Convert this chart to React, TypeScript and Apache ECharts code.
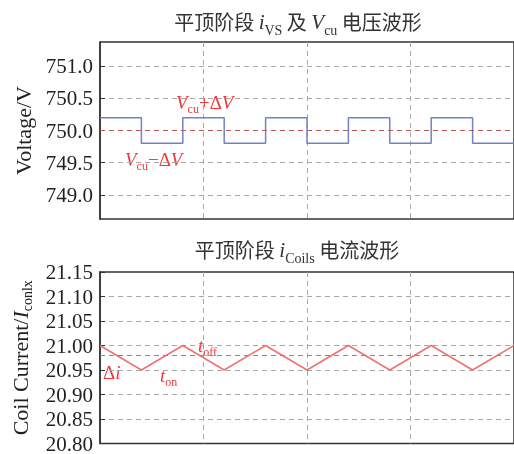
import React, { useEffect, useRef } from 'react';
import * as echarts from 'echarts';

// Top panel: switching voltage (step waveform)
const vTimes = [0, 4, 8, 12, 16, 20, 24, 28, 32, 36, 40];
const vLevels = [750.2, 749.8, 750.2, 749.8, 750.2, 749.8, 750.2, 749.8, 750.2, 749.8, 749.8];
const vRef = 750.0;

// Bottom panel: coil current (triangle waveform)
const iTimes = [0, 4, 8, 12, 16, 20, 24, 28, 32, 36, 40];
const iValues = [21.0, 20.95, 21.0, 20.95, 21.0, 20.95, 21.0, 20.95, 21.0, 20.95, 21.0];
const iRef = 20.975;

const SERIF = '"Liberation Serif", "Times New Roman", "Noto Sans CJK SC", serif';
const CJK = '"Noto Sans CJK SC", "Liberation Serif", serif';
const RED = '#f03a3a';

export default function App() {
  const ref = useRef<HTMLDivElement>(null);
  useEffect(() => {
    const chart = echarts.init(ref.current!, null, { renderer: 'svg' });

    const gridLine = { show: true, showMinLine: false, showMaxLine: false, lineStyle: { color: '#a8a8a8', type: [5, 4] as any, width: 1 } };
    const xAxisBase = {
      type: 'value' as const, min: 0, max: 40, interval: 10,
      axisLabel: { show: false }, axisTick: { show: false }, axisLine: { show: false },
      splitLine: gridLine,
    };
    const yAxisBase = {
      type: 'value' as const,
      axisLine: { show: true, lineStyle: { color: '#333', width: 1.5 } },
      axisTick: { show: true, inside: true, length: 5, lineStyle: { color: '#333' } },
      splitLine: gridLine,
      nameLocation: 'middle' as const,
      nameGap: 64,
    };
    const labelBase = { fontSize: 21, fontFamily: SERIF, color: '#222', margin: 7, showMinLabel: false, showMaxLabel: false };

    const mainTok = (size: number, italic: boolean) => ({ fontSize: size, fontFamily: SERIF, fontStyle: italic ? 'italic' : 'normal', lineHeight: 20, verticalAlign: 'top', fill: RED });
    const subTok = { fontSize: 12, fontFamily: SERIF, lineHeight: 12, padding: [10, 0, 0, 0], verticalAlign: 'top', fill: RED };
    const annRich = { v: mainTok(19, true), n: mainTok(19, false), s: subTok };

    const titleRich = (fill: string) => ({
      c: { fontSize: 20, fontFamily: CJK, lineHeight: 24, verticalAlign: 'top', fill },
      v: { fontSize: 21, fontFamily: SERIF, fontStyle: 'italic', lineHeight: 24, verticalAlign: 'top', fill },
      s: { fontSize: 14, fontFamily: SERIF, lineHeight: 14, padding: [13, 0, 0, 0], verticalAlign: 'top', fill },
    });

    const option: any = {
      animation: false,
      grid: [
        { left: 100, top: 42, right: -4, height: 177, show: true, borderColor: '#333', borderWidth: 1.5, backgroundColor: 'transparent' },
        { left: 100, top: 272, right: -4, height: 176, show: true, borderColor: '#333', borderWidth: 1.5, backgroundColor: 'transparent' },
      ],
      xAxis: [
        { ...xAxisBase, gridIndex: 0 },
        { ...xAxisBase, gridIndex: 1 },
      ],
      yAxis: [
        {
          ...yAxisBase, gridIndex: 0, min: 748.625, max: 751.375, splitNumber: 5,
          axisLabel: { ...labelBase, formatter: (v: number) => (Math.abs(v * 2 - Math.round(v * 2)) < 1e-6 ? v.toFixed(1) : '') },
          name: 'Voltage/V',
          nameTextStyle: { fontSize: 22, fontFamily: SERIF, color: '#222' },
        },
        {
          ...yAxisBase, gridIndex: 1, min: 20.8, max: 21.15, interval: 0.05,
          axisLabel: { ...labelBase, showMinLabel: true, showMaxLabel: true, formatter: (v: number) => v.toFixed(2) },
          name: '{n|Coil Current/}{i|I}{s|conlx}',
          nameTextStyle: {
            fontSize: 22, fontFamily: SERIF, color: '#222',
            rich: {
              n: { fontSize: 22, fontFamily: SERIF, color: '#222', lineHeight: 22, verticalAlign: 'top' },
              i: { fontSize: 22, fontFamily: SERIF, fontStyle: 'italic', color: '#222', lineHeight: 22, verticalAlign: 'top' },
              s: { fontSize: 14, fontFamily: SERIF, color: '#222', lineHeight: 14, padding: [11, 0, 0, 0], verticalAlign: 'top' },
            },
          },
        },
      ],
      series: [
        {
          type: 'line', xAxisIndex: 0, yAxisIndex: 0, step: 'end', showSymbol: false,
          data: vTimes.map((t, k) => [t, vLevels[k]]),
          lineStyle: { color: '#7282c8', width: 1.5 },
          markLine: {
            silent: true, symbol: 'none', label: { show: false },
            lineStyle: { color: '#b85a5a', type: [5, 4], width: 1.2 },
            data: [{ yAxis: vRef }],
          },
        },
        {
          type: 'line', xAxisIndex: 1, yAxisIndex: 1, showSymbol: false,
          data: iTimes.map((t, k) => [t, iValues[k]]),
          lineStyle: { color: '#f07070', width: 1.5 },
          markLine: {
            silent: true, symbol: 'none', label: { show: false },
            lineStyle: { color: '#f06060', type: [5, 4], width: 1.2 },
            data: [{ yAxis: iRef }],
          },
        },
      ],
      graphic: [
        {
          type: 'text', x: 298, y: 23,
          style: {
            text: '{c|平顶阶段 }{v|i}{s|VS}{c| 及 }{v|V}{s|cu}{c| 电压波形}',
            align: 'center', verticalAlign: 'middle', rich: titleRich('#333'),
          },
        },
        {
          type: 'text', x: 297, y: 251,
          style: {
            text: '{c|平顶阶段 }{v|i}{s|Coils}{c| 电流波形}',
            align: 'center', verticalAlign: 'middle', rich: titleRich('#333'),
          },
        },
        {
          type: 'text', x: 176, y: 102.5,
          style: { text: '{v|V}{s|cu}{n|+Δ}{v|V}', align: 'left', verticalAlign: 'middle', rich: annRich },
        },
        {
          type: 'text', x: 125, y: 159.5,
          style: { text: '{v|V}{s|cu}{n|−Δ}{v|V}', align: 'left', verticalAlign: 'middle', rich: annRich },
        },
        {
          type: 'text', x: 198, y: 346,
          style: { text: '{v|t}{s|off}', align: 'left', verticalAlign: 'middle', rich: annRich },
        },
        {
          type: 'text', x: 103, y: 373,
          style: { text: '{n|Δ}{v|i}', align: 'left', verticalAlign: 'middle', rich: annRich },
        },
        {
          type: 'text', x: 160, y: 376,
          style: { text: '{v|t}{s|on}', align: 'left', verticalAlign: 'middle', rich: annRich },
        },
      ],
    };
    chart.setOption(option);
    return () => chart.dispose();
  }, []);
  return <div ref={ref} style={{ position: 'fixed', left: 0, top: 0, width: 514, height: 454 }} />;
}
